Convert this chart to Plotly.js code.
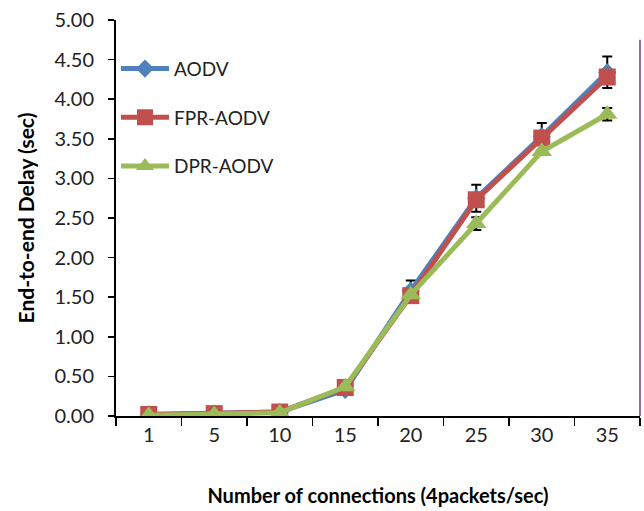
<!DOCTYPE html>
<html><head><meta charset="utf-8">
<script src="https://cdn.plot.ly/plotly-3.0.1.min.js"></script>
<style>body{margin:0;background:#fff}#c{width:644px;height:511px}</style>
</head><body><div id="c"></div>
<script>
const categories = ["1","5","10","15","20","25","30","35"];
const aodv    = [0.02, 0.03, 0.05, 0.33, 1.58, 2.75, 3.53, 4.34];
const fprAodv = [0.02, 0.03, 0.05, 0.36, 1.52, 2.73, 3.51, 4.28];
const dprAodv = [0.01, 0.02, 0.04, 0.37, 1.53, 2.43, 3.34, 3.81];
const aodvErr = [0.00, 0.00, 0.00, 0.02, 0.13, 0.17, 0.17, 0.20];
const dprErr  = [0.00, 0.00, 0.00, 0.00, 0.00, 0.08, 0.00, 0.08];

const font = "Lato, 'Open Sans', sans-serif";
const traces = [
  {x: categories, y: aodv, name: "AODV", type: "scatter", mode: "lines+markers",
   legendgroup: "a",
   line: {color: "#4F81BD", width: 5}, marker: {symbol: "diamond", size: 14, color: "#4F81BD"},
   error_y: {type: "data", array: aodvErr, visible: true, color: "#000", thickness: 2, width: 5}},
  {x: categories, y: fprAodv, name: "FPR-AODV", type: "scatter", mode: "lines+markers",
   legendgroup: "b",
   line: {color: "#C0504D", width: 5}, marker: {symbol: "square", size: 17, color: "#C0504D"}},
  {x: categories, y: dprAodv, name: "DPR-AODV", type: "scatter", mode: "lines+markers",
   legendgroup: "c",
   line: {color: "#9BBB59", width: 5}, marker: {symbol: "triangle-up", size: 18, color: "#9BBB59"},
   error_y: {type: "data", array: dprErr, visible: true, color: "#000", thickness: 2, width: 5}}
];
const layout = {
  width: 644, height: 511,
  margin: {l: 116, r: 4, t: 20, b: 95},
  paper_bgcolor: "#fff", plot_bgcolor: "#fff",
  font: {family: font, color: "#222", size: 19},
  showlegend: true,
  legend: {x: 0.0, y: 0.925, xanchor: "left", yanchor: "top", bgcolor: "rgba(0,0,0,0)",
           font: {size: 19, color: "#222"}, itemwidth: 48, tracegroupgap: 21},
  xaxis: {type: "category", range: [-0.5, 7.5], showline: true, linecolor: "#000", linewidth: 2,
          ticks: "outside", tickson: "boundaries", ticklen: 8, tickcolor: "#000", tickwidth: 1.5,
          showgrid: false, zeroline: false, tickfont: {size: 20, color: "#222"},
          title: {text: "<b>Number of connections (4packets/sec)</b>", font: {size: 20, color: "#000"}, standoff: 44}},
  yaxis: {range: [0, 5], dtick: 0.5, tickformat: ".2f", showline: true, linecolor: "#000", linewidth: 2,
          ticks: "outside", ticklen: 6, tickcolor: "#000", tickwidth: 1.5, ticklabelstandoff: 10,
          showgrid: false, zeroline: false, tickfont: {size: 20, color: "#222"},
          title: {text: "<b>End-to-end Delay (sec)</b>", font: {size: 21, color: "#000"}, standoff: 14}},
  shapes: [{type: "line", xref: "paper", yref: "paper", x0: 1, x1: 1, y0: 0, y1: 0.95,
            line: {color: "#7a3a8a", width: 1.5}}]
};
Plotly.newPlot("c", traces, layout, {displayModeBar: false, staticPlot: true});
</script></body></html>
